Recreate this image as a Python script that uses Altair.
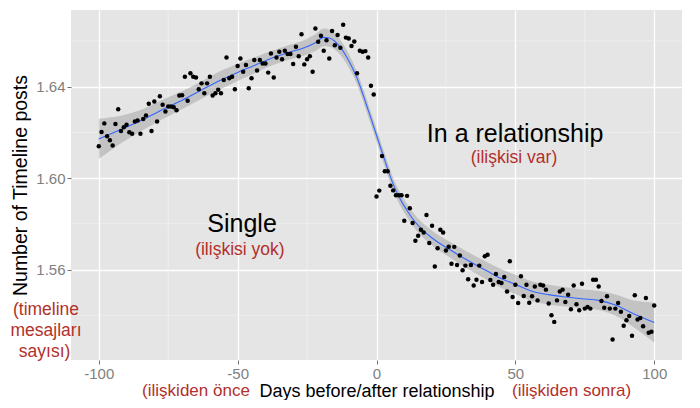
import altair as alt
import pandas as pd

# ---- data ----
days = list(range(-100, 101))
posts = [
    1.6139, 1.6201, 1.6239, 1.6183, 1.6165, 1.6142, 1.6236, 1.6301, 1.6206, 1.6222,  # -100..-91
    1.6233, 1.6200, 1.6194, 1.6247, 1.6252, 1.6194, 1.6258, 1.6274, 1.6325, 1.6206,  # -90..-81
    1.6335, 1.6247, 1.6358, 1.6320, 1.6291, 1.6313, 1.6313, 1.6310, 1.6296, 1.6361,  # -80..-71
    1.6362, 1.6443, 1.6338, 1.6458, 1.6443, 1.6440, 1.6388, 1.6414, 1.6371, 1.6414,  # -70..-61
    1.6443, 1.6361, 1.6371, 1.6386, 1.6371, 1.6429, 1.6527, 1.6436, 1.6443, 1.6388,  # -60..-51
    1.6490, 1.6523, 1.6465, 1.6494, 1.6393, 1.6436, 1.6516, 1.6470, 1.6516, 1.6501,  # -50..-41
    1.6501, 1.6461, 1.6545, 1.6440, 1.6527, 1.6552, 1.6519, 1.6557, 1.6542, 1.6542,  # -40..-31
    1.6499, 1.6574, 1.6533, 1.6629, 1.6497, 1.6519, 1.6533, 1.6465, 1.6654, 1.6596,  # -30..-21
    1.6622, 1.6557, 1.6603, 1.6523, 1.6643, 1.6581, 1.6625, 1.6570, 1.6670, 1.6614,  # -20..-11
    1.6610, 1.6577, 1.6597, 1.6458, 1.6557, 1.6552, 1.6555, 1.6527, 1.6404, 1.6365,  # -10..-1
    1.5919,                                                                          # 0
    1.5945, 1.6096, 1.6030, 1.6030, 1.5966, 1.5946, 1.5925, 1.5925, 1.5925, 1.5813,  # 1..10
    1.5922, 1.5868, 1.5803, 1.5726, 1.5748, 1.5774, 1.5762, 1.5838, 1.5716, 1.5791,  # 11..20
    1.5613, 1.5693, 1.5774, 1.5762, 1.5683, 1.5700, 1.5625, 1.5699, 1.5620, 1.5661,  # 21..30
    1.5597, 1.5617, 1.5557, 1.5620, 1.5530, 1.5555, 1.5617, 1.5545, 1.5658, 1.5665,  # 31..40
    1.5554, 1.5533, 1.5580, 1.5545, 1.5541, 1.5567, 1.5504, 1.5636, 1.5480, 1.5533,  # 41..50
    1.5454, 1.5571, 1.5484, 1.5533, 1.5455, 1.5483, 1.5526, 1.5465, 1.5533, 1.5530,  # 51..60
    1.5512, 1.5451, 1.5400, 1.5371, 1.5465, 1.5504, 1.5512, 1.5458, 1.5490, 1.5426,  # 61..70
    1.5530, 1.5448, 1.5422, 1.5538, 1.5429, 1.5436, 1.5429, 1.5555, 1.5555, 1.5526,  # 71..80
    1.5462, 1.5433, 1.5483, 1.5429, 1.5294, 1.5429, 1.5454, 1.5415, 1.5354, 1.5378,  # 81..90
    1.5397, 1.5310, 1.5487, 1.5381, 1.5388, 1.5352, 1.5475, 1.5323, 1.5328, 1.5443,  # 91..100
]

smooth_day = [-100, -92, -85, -77, -70, -63, -56, -50, -44, -38,
              -32, -26, -22, -19, -17, -15, -13, -11, -9, -7,
              -5, -3, -1, 1, 3, 5, 7, 9, 11, 13,
              16, 20, 25, 30, 35, 40, 45, 50, 56, 62,
              68, 74, 80, 86, 92, 100]
smooth_fit = [1.6171, 1.6212, 1.6250, 1.6300, 1.6340, 1.6385, 1.6429, 1.6462, 1.6492, 1.6523,
              1.6548, 1.6570, 1.6592, 1.6615, 1.6612, 1.6598, 1.6571, 1.6535, 1.6490, 1.6437,
              1.6370, 1.6297, 1.6225, 1.6150, 1.6077, 1.6005, 1.5945, 1.5898, 1.5858, 1.5822,
              1.5780, 1.5738, 1.5697, 1.5660, 1.5625, 1.5592, 1.5560, 1.5535, 1.5505, 1.5490,
              1.5480, 1.5472, 1.5465, 1.5445, 1.5410, 1.5368]
band_half = [0.0088, 0.0060, 0.0047, 0.0042, 0.0039, 0.0038, 0.0040, 0.0038, 0.0035, 0.0032,
             0.0032, 0.0034, 0.0037, 0.0039, 0.0038, 0.0036, 0.0033, 0.0031, 0.0029, 0.0028,
             0.0028, 0.0028, 0.0028, 0.0028, 0.0028, 0.0028, 0.0028, 0.0029, 0.0029, 0.0030,
             0.0031, 0.0032, 0.0034, 0.0036, 0.0037, 0.0039, 0.0041, 0.0042, 0.0043, 0.0043,
             0.0042, 0.0041, 0.0042, 0.0046, 0.0057, 0.0087]

major_x = [-100, -50, 0, 50, 100]
major_y = [1.56, 1.60, 1.64]
minor_x = [-75, -25, 25, 75]
minor_y = [1.54, 1.58, 1.62, 1.66]

big_labels = ["Single", "In a relationship"]
big_x = [-48.4, 49.9]
big_y = [1.5800, 1.6191]

red_labels = ["(ilişkisi yok)", "(ilişkisi var)", "(timeline", "mesajları", "sayısı)"]
red_x = [-49.2, 49.5, -119.0, -119.0, -119.5]
red_y = [1.5687, 1.6087, 1.5423, 1.5331, 1.5239]

foot_left = "(ilişkiden önce"
foot_right = "(ilişkiden sonra)"
foot_x = [-45.6, 48.8]
foot_y = 1.5069

assert len(days) == len(posts)

FONT = "Liberation Sans"
RED = "#b3302b"

pts = pd.DataFrame({"day": days, "posts": posts})
sm = pd.DataFrame({"day": smooth_day, "fit": smooth_fit, "half": band_half})

xs = alt.Scale(domain=[-110, 110], nice=False, zero=False)
ys = alt.Scale(domain=[1.52043, 1.67348], nice=False, zero=False)

x_axis = alt.Axis(values=major_x, title="Days before/after relationship",
                  labelExpr="'' + datum.value", grid=True)
y_axis = alt.Axis(values=major_y, title="Number of Timeline posts",
                  labelExpr="format(datum.value, '.2f')", grid=True)

minor_v = alt.Chart(pd.DataFrame({"v": minor_x})).mark_rule(
    color="#f2f2f2", strokeWidth=0.7).encode(x=alt.X("v:Q", scale=xs, axis=x_axis))
minor_h = alt.Chart(pd.DataFrame({"v": minor_y})).mark_rule(
    color="#f2f2f2", strokeWidth=0.7).encode(y=alt.Y("v:Q", scale=ys, axis=y_axis))

band = alt.Chart(sm).transform_calculate(
    lo="datum.fit - datum.half", hi="datum.fit + datum.half"
).mark_area(color="#999999", opacity=0.45, interpolate="monotone").encode(
    x=alt.X("day:Q", scale=xs, axis=x_axis),
    y=alt.Y("lo:Q", scale=ys, axis=y_axis),
    y2="hi:Q",
)

line = alt.Chart(sm).mark_line(color="#3366ff", strokeWidth=1.1, interpolate="monotone").encode(
    x=alt.X("day:Q", scale=xs, axis=x_axis),
    y=alt.Y("fit:Q", scale=ys, axis=y_axis),
)

points = alt.Chart(pts).mark_circle(color="black", opacity=1, size=20).encode(
    x=alt.X("day:Q", scale=xs, axis=x_axis),
    y=alt.Y("posts:Q", scale=ys, axis=y_axis),
)

big = alt.Chart(pd.DataFrame({"t": big_labels, "x": big_x, "y": big_y})).mark_text(
    font=FONT, fontSize=25, color="black", align="center", baseline="middle").encode(
    x=alt.X("x:Q", scale=xs), y=alt.Y("y:Q", scale=ys), text="t:N")

red = alt.Chart(pd.DataFrame({"t": red_labels, "x": red_x, "y": red_y})).mark_text(
    font=FONT, fontSize=17.5, color=RED, align="center", baseline="middle").encode(
    x=alt.X("x:Q", scale=xs), y=alt.Y("y:Q", scale=ys), text="t:N")

foot_l = alt.Chart(pd.DataFrame({"t": [foot_left], "x": [foot_x[0]], "y": [foot_y]})).mark_text(
    font=FONT, fontSize=17, color=RED, align="right", baseline="middle").encode(
    x=alt.X("x:Q", scale=xs), y=alt.Y("y:Q", scale=ys), text="t:N")
foot_r = alt.Chart(pd.DataFrame({"t": [foot_right], "x": [foot_x[1]], "y": [foot_y]})).mark_text(
    font=FONT, fontSize=17, color=RED, align="left", baseline="middle").encode(
    x=alt.X("x:Q", scale=xs), y=alt.Y("y:Q", scale=ys), text="t:N")

chart = alt.layer(minor_v, minor_h, band, line, points, big, red, foot_l, foot_r).properties(
    width=611, height=350,
    autosize=alt.AutoSizeParams(type="none"),
    padding={"left": 63, "top": 2, "right": 10, "bottom": 40},
    background="white",
).configure_view(
    fill="#e5e5e5", stroke=None
).configure_axis(
    domain=False,
    gridColor="white", gridWidth=1.3,
    tickColor="#4d4d4d", tickSize=4, tickWidth=0.8,
    labelColor="#7f7f7f", labelFont=FONT, labelFontSize=15, labelPadding=2,
    titleColor="black", titleFont=FONT, titleFontWeight="normal",
).configure_axisX(
    titleFontSize=18, titleY=31, titleBaseline="middle",
).configure_axisY(
    titleFontSize=19.5, titleX=-51, titleBaseline="middle",
)

chart.save("out.html", embed_options={"renderer": "svg", "actions": False})
